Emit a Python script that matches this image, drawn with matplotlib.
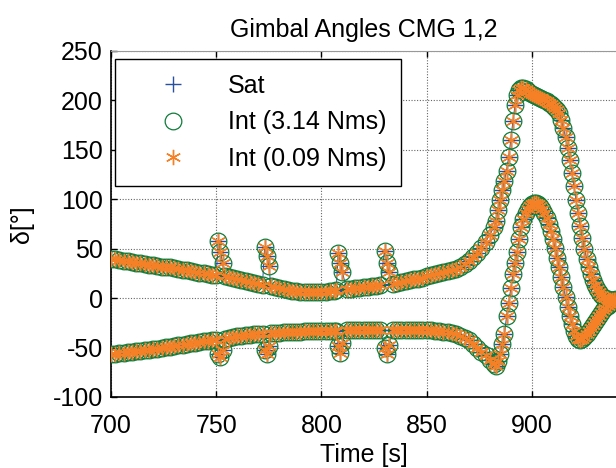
import matplotlib
matplotlib.use("Agg")
import matplotlib.pyplot as plt
from matplotlib.lines import Line2D

plt.rcParams['font.family'] = ['Liberation Sans', 'DejaVu Sans']
plt.rcParams['axes.unicode_minus'] = False

# time axis [s], 2 s steps in the slow parts, 1 s in spikes and the manoeuvre
time = [700, 702, 704, 706, 708, 710, 712, 714, 716, 718, 720, 722, 724, 726, 728,
        730, 732, 734, 736, 738, 740, 742, 744, 746, 748, 750, 751, 752, 753,
        754, 756, 758, 760, 762, 764, 766, 768, 770, 772, 773, 774, 775,
        776, 778, 780, 782, 784, 786, 788, 790, 792, 794, 796, 798, 800, 802, 804, 806,
        807, 808, 809, 810,
        812, 814, 816, 818, 820, 822, 824, 826, 828, 830, 831, 832,
        834, 836, 838, 840, 842, 844, 846, 848, 850, 852, 854, 856, 858, 860, 862, 864,
        866, 868, 870, 872, 874, 876, 878, 880, 882,
        883, 884, 885, 886, 887, 888, 889, 890, 891, 892, 893, 894, 895, 896, 897, 898,
        899, 900, 901, 902, 903, 904, 905, 906, 907, 908, 909, 910, 911, 912, 913, 914,
        915, 916, 917, 918, 919, 920, 921, 922, 923, 924, 925, 926, 927, 928, 929, 930,
        931, 932, 933, 934, 935, 936, 937, 938, 939, 940]

# gimbal angle CMG 1 [deg]
delta_1 = [40, 39.5, 39, 38, 37.5, 37, 36, 35.5, 35, 34, 33.5, 33, 32, 31.5, 31,
           30, 29.5, 28.5, 28, 27, 26.5, 25.5, 25, 24, 23.5, 23, 58, 47, 36,
           22, 21, 20, 19, 18, 17, 16, 15, 14, 13.5, 52, 43, 33,
           12, 11, 10, 9, 8, 7.5, 7, 6.5, 6, 6, 6, 6, 6, 6.5, 7, 7.5,
           8, 46, 36, 26,
           9, 9.5, 10, 10.5, 11, 11.5, 12, 12.5, 13, 48, 36, 26,
           14.5, 15, 16, 17, 18, 19, 19.5, 20.5, 22, 23, 24, 25, 26, 27, 28, 29.5,
           31.5, 34.5, 38, 42, 46, 51, 57, 64, 72,
           78, 89, 99, 109, 119, 129, 143, 160, 179, 195, 205, 211, 213, 213, 212, 210,
           208, 206, 205, 204, 203, 202, 201, 200, 199, 197, 196, 194, 192, 190, 187, 180,
           172, 163, 152, 140, 127, 113, 99, 86, 73, 61, 50, 40, 32, 24, 18, 13,
           9, 6, 3, 1, 0, -1, -2, -2, -2, -2]

# gimbal angle CMG 2 [deg]
delta_2 = [-56, -56, -55.5, -55, -54.5, -54, -53.5, -53, -52.5, -52, -51.5, -51, -50, -49.5, -49,
           -48, -47.5, -47, -46, -45.5, -45, -44, -43.5, -43, -42.5, -42, -57, -60, -52,
           -41, -40, -39, -38.5, -38, -37.5, -37, -36.5, -36, -36, -52, -57, -48,
           -35.5, -35, -35, -34.5, -34.5, -34, -34, -34, -33.5, -33.5, -33.5, -33, -33, -33, -33, -33,
           -33, -48, -55, -45,
           -32.5, -32.5, -32.5, -32.5, -32.5, -32, -32, -32, -32, -50, -57, -47,
           -32, -32, -32, -32, -32, -32, -32, -32, -32.5, -32.5, -33, -33.5, -34, -34.5, -35, -36.5,
           -38, -40, -42, -46, -50, -54, -58, -63, -67,
           -69, -64, -56, -46, -36, -18, -5, 10, 24, 36, 47, 60, 72, 80, 86, 90,
           93, 95, 96, 96, 95, 93, 90, 86, 81, 75, 68, 60, 51, 41, 31, 21,
           11, 1, -9, -18, -26, -33, -38, -41, -42, -41, -39, -36, -33, -30, -27, -24,
           -21, -18, -15, -12, -10, -8, -6, -4, -2, -1]

labels = ['Sat', 'Int (3.14 Nms)', 'Int (0.09 Nms)']
c_sat = '#2850a0'
c_int1 = '#0e7c3a'
c_int2 = '#f58025'
star = (6, 2, 0)

fig = plt.figure(figsize=(6.16, 4.68), dpi=100)
ax = fig.add_axes([111/616, 1 - 397/468, 505/616, 346/468])

for d in (delta_1, delta_2):
    ax.plot(time, d, color=c_sat, marker='+', ms=12, mew=1.0, lw=0.7, zorder=2)
    ax.plot(time, d, color=c_int1, marker='o', ms=12, mew=0.9, mfc='none', ls='none', zorder=3)
    ax.plot(time, d, color=c_int2, marker=star, ms=11, mew=1.0, ls='none', zorder=4)

ax.set_xlim(700, 940)
ax.set_ylim(-100, 250)
ax.set_xticks([700, 750, 800, 850, 900])
ax.set_yticks([-100, -50, 0, 50, 100, 150, 200, 250])
ax.grid(True, color='#666666', ls=(0, (1, 1.5)), lw=0.8)
ax.tick_params(direction='in', length=4, width=1, labelsize=18, top=True, right=False, pad=6)
ax.tick_params(axis='x', pad=12)
for s in ('left', 'bottom'):
    ax.spines[s].set_linewidth(1.2)
ax.spines['top'].set_color('#999999')
ax.spines['top'].set_linewidth(0.8)
ax.spines['right'].set_visible(False)

ax.set_title('Gimbal Angles CMG 1,2', fontsize=18, pad=10)
ax.set_xlabel('Time [s]', fontsize=18, labelpad=4)
ax.set_ylabel('δ[°]', fontsize=18, labelpad=13)

handles = [Line2D([], [], color=c_sat, marker='+', ms=12, mew=1.0, ls='none'),
           Line2D([], [], color=c_int1, marker='o', ms=12, mew=0.9, mfc='none', ls='none'),
           Line2D([], [], color=c_int2, marker=star, ms=11, mew=1.0, ls='none')]
leg = ax.legend(handles, labels, loc='upper left', bbox_to_anchor=(4/505, 1 - 8/346),
                borderaxespad=0, fontsize=18, fancybox=False, framealpha=1,
                edgecolor='black', handlelength=3.4, handletextpad=0.5,
                borderpad=0.6, labelspacing=0.5)
leg.get_frame().set_linewidth(1.0)

fig.savefig('out.png', dpi=100)
